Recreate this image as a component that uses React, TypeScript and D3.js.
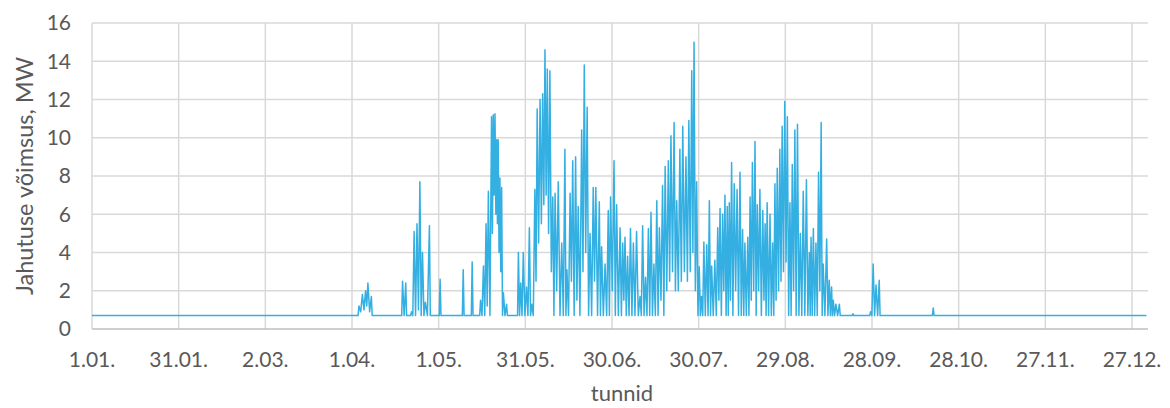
import * as d3 from 'd3';

// Hourly cooling load, summarised as the peaks (day of year, 0 = 1.01.)
const BASE_MW = 0.7;

const peakDay = [
    92.4, 93.6, 94.7, 95.5, 96.7,
    107.5, 108.6,
    110.6, 111.5, 112.5, 113.5, 114.4, 115.4, 116.8,
    120.5, 128.5, 131.6,
    134.5, 135.5, 136.4, 137.2, 138.3, 138.9, 139.5, 140.1, 140.6, 141.2, 141.8, 142.4, 143.5,
    147.6, 148.4, 149.3, 150.4, 151.4, 152.2,
    153.3, 154.1, 155.1, 156.0, 156.8, 157.6, 158.5, 159.5, 160.3, 161.4,
    162.6, 163.7, 164.4, 165.5, 166.4, 167.4, 168.3, 169.5, 170.4, 171.4,
    172.4, 173.5, 174.4, 175.6, 176.4, 177.6, 178.7, 179.5, 180.7, 181.6,
    182.8, 183.7, 184.5, 185.4, 186.4, 187.4, 188.5, 189.7, 190.6, 191.6,
    192.6, 193.5, 194.5, 195.5, 196.4, 197.5, 198.4, 199.5, 200.4, 201.5,
    202.4, 203.5, 204.5, 205.6, 206.6, 207.6, 208.4, 209.3, 210.2, 211.0,
    211.8, 212.8, 213.7, 214.5, 215.6, 216.6, 217.4, 218.3, 219.1, 219.9,
    220.6, 221.4, 222.3, 223.3, 224.3, 225.2, 226.0, 227.0, 227.8, 228.6,
    229.5, 230.3, 231.2, 232.2, 233.0, 233.7, 234.7, 235.6, 236.4, 237.2,
    238.1, 238.9, 239.8, 240.7, 241.6, 242.4, 243.3, 244.2, 245.2, 246.2,
    247.3, 248.3, 248.9, 249.7, 250.6, 251.5, 252.4, 253.1, 254.3, 255.2,
    256.0, 256.6, 257.5, 258.7,
    263.4,
    269.5, 270.4, 271.4, 272.5,
    291.2
];

const peakMW = [
    1.2, 1.8, 2.0, 2.4, 1.7,
    2.5, 2.4,
    0.9, 5.1, 5.5, 7.7, 4.0, 1.4, 5.4,
    2.6, 3.1, 3.5,
    1.5, 3.3, 5.5, 7.2, 11.1, 11.2, 11.25, 9.9, 9.9, 7.9, 7.4, 1.9, 1.3,
    4.0, 2.4, 4.0, 2.2, 5.3, 1.3,
    7.3, 11.5, 12.0, 12.3, 14.6, 13.6, 13.5, 6.9, 7.1, 7.7,
    4.5, 9.4, 3.1, 7.1, 8.8, 9.0, 6.4, 10.4, 13.8, 11.6,
    5.0, 7.4, 7.4, 6.65, 4.3, 3.4, 6.2, 6.9, 8.8, 6.5,
    5.3, 4.5, 4.8, 3.8, 5.25, 4.5, 5.1, 1.7, 5.4, 2.7,
    5.25, 6.1, 3.4, 6.7, 5.3, 7.5, 8.5, 8.8, 10.1, 10.8,
    6.7, 9.4, 10.6, 9.0, 10.9, 13.5, 15.0, 7.7, 3.25, 1.7,
    4.55, 4.4, 6.7, 3.3, 3.6, 5.3, 6.3, 6.0, 7.0, 6.4,
    6.6, 8.7, 7.6, 7.3, 8.2, 5.2, 4.5, 4.8, 6.9, 8.7,
    9.8, 6.5, 7.3, 6.2, 5.5, 6.6, 6.0, 4.5, 7.6, 8.4,
    9.4, 10.6, 11.9, 11.1, 6.6, 8.6, 10.4, 10.7, 5.0, 7.2,
    7.8, 4.0, 4.8, 5.25, 4.5, 8.2, 10.8, 3.4, 4.7, 2.55,
    2.2, 1.5, 1.3, 1.3,
    0.8,
    0.9, 3.4, 2.3, 2.55,
    1.1
];

// night minimum that follows each peak (only used when the next peak is close)
const troughMW = [
    0.9, 1.0, 1.2, 0.9, 0.7,
    0.7, 0.7,
    0.7, 0.7, 1.0, 0.7, 0.7, 0.7, 0.7,
    0.7, 0.7, 0.7,
    0.7, 0.7, 1.2, 0.7, 5.0, 7.0, 6.0, 5.5, 4.0, 3.0, 0.7, 0.7, 0.7,
    0.7, 0.7, 0.7, 0.7, 0.7, 0.7,
    2.5, 4.5, 5.5, 6.5, 7.0, 5.0, 3.0, 0.7, 2.0, 0.7,
    0.7, 0.7, 0.7, 2.5, 0.7, 1.5, 0.7, 3.0, 4.0, 0.7,
    0.7, 2.5, 0.7, 0.7, 0.7, 0.7, 0.7, 2.0, 0.7, 0.7,
    0.7, 1.5, 0.7, 0.7, 0.7, 0.7, 0.7, 0.7, 0.7, 0.7,
    0.7, 0.7, 0.7, 0.7, 1.5, 0.7, 2.0, 2.5, 3.0, 2.0,
    2.0, 2.5, 3.0, 2.5, 3.0, 4.0, 2.0, 0.7, 0.7, 0.7,
    0.7, 0.7, 0.7, 0.7, 0.7, 1.5, 0.7, 2.0, 0.7, 0.7,
    1.5, 0.7, 2.0, 0.7, 0.7, 0.7, 0.7, 0.7, 1.5, 2.0,
    0.7, 2.0, 0.7, 1.5, 0.7, 0.7, 0.7, 0.7, 1.5, 2.0,
    2.5, 3.0, 3.5, 0.7, 0.7, 2.0, 0.7, 0.7, 0.7, 0.7,
    0.7, 0.7, 0.7, 0.7, 0.7, 2.0, 0.7, 0.7, 0.7, 0.7,
    0.7, 0.7, 0.7, 0.7,
    0.7,
    0.7, 0.7, 0.7, 0.7,
    0.7
];

const xTickDays = [0, 30, 60, 90, 120, 150, 180, 210, 240, 270, 300, 330, 360];
const xTickLabels = ['1.01.', '31.01.', '2.03.', '1.04.', '1.05.', '31.05.', '30.06.', '30.07.', '29.08.', '28.09.', '28.10.', '27.11.', '27.12.'];
const yTicks = [0, 2, 4, 6, 8, 10, 12, 14, 16];

const W = 1170, H = 408;
const plot = { left: 92, right: 1148, top: 23, bottom: 329 };
const FONT = 'Lato, "Open Sans", sans-serif';
const TEXT = '#595959';

function buildSeries(): [number, number][] {
    const pts: [number, number][] = [[0, BASE_MW]];
    peakDay.forEach((d, i) => {
        const prev = i > 0 ? peakDay[i - 1] : -10;
        if (d - prev > 1.6) {
            if (i > 0) pts.push([prev + 0.3, BASE_MW]);
            pts.push([d - 0.3, BASE_MW]);
        } else {
            pts.push([(d + prev) / 2, troughMW[i - 1]]);
        }
        pts.push([d, peakMW[i]]);
    });
    pts.push([peakDay[peakDay.length - 1] + 0.3, BASE_MW]);
    pts.push([365, BASE_MW]);
    return pts;
}

export default function App() {
    const x = d3.scaleLinear().domain([0, 360]).range([plot.left, 1132]);
    const y = d3.scaleLinear().domain([0, 16]).range([plot.bottom, plot.top]);
    const line = d3.line<[number, number]>().x(d => x(d[0])).y(d => y(d[1]));
    const series = buildSeries();

    return (
        <div style={{ position: 'fixed', left: 0, top: 0, width: W, height: H, background: '#fff' }}>
            <svg width={W} height={H} style={{ display: 'block' }}>
                {/* horizontal grid */}
                {yTicks.filter(t => t > 0).map(t => (
                    <line key={'h' + t} x1={plot.left} x2={plot.right} y1={y(t)} y2={y(t)} stroke="#d9d9d9" strokeWidth={1.5} />
                ))}
                {/* vertical grid */}
                {xTickDays.map(d => (
                    <line key={'v' + d} x1={x(d)} x2={x(d)} y1={plot.top} y2={plot.bottom} stroke="#d9d9d9" strokeWidth={1.5} />
                ))}
                {/* x axis line */}
                <line x1={plot.left} x2={plot.right} y1={y(0)} y2={y(0)} stroke="#bfbfbf" strokeWidth={1.5} />

                <path d={line(series) || ''} fill="none" stroke="#33afe2" strokeWidth={1.5} strokeLinejoin="round" />

                {/* y tick labels */}
                {yTicks.map(t => (
                    <text key={'yl' + t} x={71} y={y(t)} dy="0.35em" textAnchor="end" fontFamily={FONT} fontSize={21} fill={TEXT}>{t}</text>
                ))}
                {/* x tick labels */}
                {xTickDays.map((d, i) => (
                    <text key={'xl' + d} x={x(d)} y={367} textAnchor="middle" fontFamily={FONT} fontSize={21} fill={TEXT}>{xTickLabels[i]}</text>
                ))}

                <text x={622} y={401} textAnchor="middle" fontFamily={FONT} fontSize={22} fill={TEXT}>tunnid</text>
                <text transform="translate(33,176) rotate(-90)" textAnchor="middle" fontFamily={FONT} fontSize={23.5} fill={TEXT}>Jahutuse võimsus, MW</text>
            </svg>
        </div>
    );
}
